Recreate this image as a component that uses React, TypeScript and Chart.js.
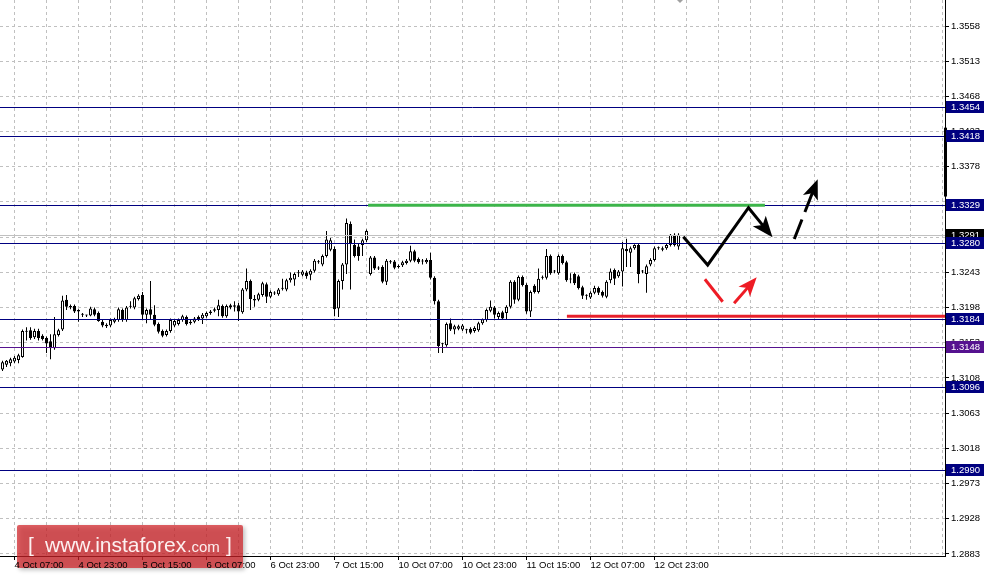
import React, { useEffect, useRef } from 'react';
import { Chart, registerables } from 'chart.js';
Chart.register(...registerables);

// ---- Candle data (H1) ----
const openP = [
  1.3119,1.3125,1.3127,1.3129,1.3131,1.3135,1.3168,1.3169,1.3160,1.3168,
  1.3162,1.3159,1.3155,1.3146,1.3163,1.3170,1.3208,1.3200,1.3200,1.3195,
  1.3189,1.3188,1.3188,1.3196,1.3191,1.3180,1.3176,1.3175,1.3180,1.3182,
  1.3195,1.3182,1.3199,1.3198,1.3209,1.3214,1.3189,1.3196,1.3189,1.3177,
  1.3168,1.3163,1.3168,1.3175,1.3177,1.3182,1.3186,1.3180,1.3180,1.3186,
  1.3184,1.3187,1.3191,1.3194,1.3195,1.3200,1.3187,1.3201,1.3201,1.3201,
  1.3192,1.3221,1.3232,1.3209,1.3208,1.3214,1.3228,1.3212,1.3217,1.3215,
  1.3222,1.3221,1.3233,1.3234,1.3242,1.3240,1.3243,1.3240,1.3245,1.3257,
  1.3253,1.3264,1.3272,1.3273,1.3197,1.3232,1.3253,1.3305,1.3278,1.3276,
  1.3278,1.3284,1.3241,1.3262,1.3249,1.3250,1.3231,1.3257,1.3257,1.3251,
  1.3252,1.3255,1.3258,1.3270,1.3260,1.3258,1.3256,1.3259,1.3236,1.3206,
  1.3151,1.3150,1.3178,1.3170,1.3171,1.3170,1.3169,1.3171,1.3168,1.3169,
  1.3178,1.3182,1.3194,1.3198,1.3186,1.3192,1.3191,1.3199,1.3231,1.3208,
  1.3237,1.3227,1.3193,1.3226,1.3218,1.3236,1.3236,1.3264,1.3244,1.3242,
  1.3264,1.3256,1.3234,1.3241,1.3238,1.3224,1.3213,1.3211,1.3217,1.3223,
  1.3218,1.3212,1.3233,1.3246,1.3238,1.3244,1.3273,1.3268,1.3274,1.3278,
  1.3244,1.3241,1.3253,1.3259,1.3274,1.3272,1.3274,1.3278,1.3291,1.3276
];
const highP = [
  1.3130,1.3131,1.3134,1.3136,1.3139,1.3170,1.3173,1.3173,1.3171,1.3171,
  1.3164,1.3161,1.3164,1.3186,1.3171,1.3213,1.3214,1.3202,1.3202,1.3196,
  1.3191,1.3189,1.3199,1.3198,1.3193,1.3182,1.3178,1.3184,1.3185,1.3198,
  1.3197,1.3200,1.3206,1.3212,1.3215,1.3218,1.3197,1.3232,1.3201,1.3179,
  1.3170,1.3170,1.3184,1.3183,1.3184,1.3189,1.3188,1.3182,1.3186,1.3188,
  1.3191,1.3193,1.3195,1.3198,1.3208,1.3202,1.3202,1.3203,1.3206,1.3204,
  1.3223,1.3248,1.3234,1.3214,1.3217,1.3231,1.3230,1.3220,1.3219,1.3223,
  1.3235,1.3235,1.3243,1.3243,1.3246,1.3246,1.3245,1.3247,1.3260,1.3259,
  1.3266,1.3296,1.3287,1.3276,1.3234,1.3255,1.3312,1.3308,1.3285,1.3280,
  1.3286,1.3298,1.3264,1.3264,1.3251,1.3252,1.3260,1.3259,1.3259,1.3253,
  1.3258,1.3260,1.3277,1.3272,1.3262,1.3260,1.3261,1.3268,1.3238,1.3208,
  1.3153,1.3179,1.3184,1.3176,1.3176,1.3177,1.3171,1.3173,1.3174,1.3180,
  1.3184,1.3197,1.3207,1.3200,1.3193,1.3194,1.3201,1.3233,1.3233,1.3239,
  1.3239,1.3229,1.3220,1.3228,1.3248,1.3239,1.3273,1.3266,1.3246,1.3266,
  1.3266,1.3258,1.3242,1.3243,1.3240,1.3226,1.3215,1.3219,1.3226,1.3225,
  1.3220,1.3233,1.3248,1.3248,1.3246,1.3282,1.3286,1.3276,1.3279,1.3280,
  1.3246,1.3253,1.3261,1.3276,1.3276,1.3276,1.3280,1.3292,1.3293,1.3293
];
const lowP = [
  1.3117,1.3122,1.3123,1.3127,1.3127,1.3134,1.3156,1.3157,1.3158,1.3156,
  1.3156,1.3140,1.3132,1.3144,1.3161,1.3168,1.3195,1.3196,1.3191,1.3180,
  1.3186,1.3186,1.3187,1.3187,1.3180,1.3173,1.3172,1.3173,1.3178,1.3180,
  1.3180,1.3180,1.3197,1.3196,1.3207,1.3182,1.3178,1.3182,1.3174,1.3165,
  1.3160,1.3161,1.3166,1.3173,1.3175,1.3180,1.3175,1.3176,1.3178,1.3181,
  1.3177,1.3185,1.3189,1.3192,1.3187,1.3185,1.3185,1.3196,1.3193,1.3181,
  1.3190,1.3219,1.3195,1.3199,1.3206,1.3212,1.3204,1.3210,1.3214,1.3213,
  1.3220,1.3219,1.3230,1.3226,1.3237,1.3238,1.3235,1.3233,1.3243,1.3254,
  1.3251,1.3262,1.3270,1.3187,1.3186,1.3221,1.3241,1.3221,1.3262,1.3258,
  1.3264,1.3282,1.3239,1.3246,1.3246,1.3229,1.3227,1.3254,1.3247,1.3248,
  1.3250,1.3253,1.3256,1.3256,1.3254,1.3253,1.3254,1.3234,1.3202,1.3140,
  1.3140,1.3148,1.3168,1.3164,1.3169,1.3168,1.3165,1.3164,1.3166,1.3167,
  1.3176,1.3180,1.3192,1.3184,1.3182,1.3182,1.3182,1.3197,1.3203,1.3206,
  1.3225,1.3190,1.3186,1.3216,1.3216,1.3234,1.3234,1.3240,1.3242,1.3240,
  1.3253,1.3231,1.3229,1.3227,1.3221,1.3209,1.3208,1.3209,1.3215,1.3214,
  1.3211,1.3210,1.3229,1.3227,1.3236,1.3225,1.3250,1.3250,1.3272,1.3229,
  1.3242,1.3217,1.3251,1.3257,1.3272,1.3270,1.3272,1.3276,1.3276,1.3272
];
const closeP = [
  1.3128,1.3130,1.3132,1.3134,1.3137,1.3168,1.3167,1.3159,1.3168,1.3159,
  1.3158,1.3152,1.3146,1.3164,1.3169,1.3207,1.3199,1.3198,1.3193,1.3193,
  1.3189,1.3188,1.3197,1.3189,1.3181,1.3175,1.3174,1.3182,1.3183,1.3196,
  1.3182,1.3198,1.3199,1.3210,1.3213,1.3189,1.3195,1.3189,1.3176,1.3167,
  1.3162,1.3168,1.3182,1.3181,1.3182,1.3187,1.3177,1.3178,1.3184,1.3183,
  1.3189,1.3191,1.3193,1.3196,1.3201,1.3187,1.3200,1.3198,1.3199,1.3193,
  1.3221,1.3232,1.3209,1.3207,1.3215,1.3229,1.3212,1.3218,1.3216,1.3221,
  1.3223,1.3233,1.3236,1.3241,1.3243,1.3244,1.3238,1.3245,1.3258,1.3256,
  1.3264,1.3285,1.3284,1.3196,1.3232,1.3253,1.3306,1.3280,1.3264,1.3264,
  1.3284,1.3296,1.3262,1.3248,1.3248,1.3231,1.3258,1.3256,1.3249,1.3250,
  1.3256,1.3258,1.3270,1.3258,1.3256,1.3257,1.3259,1.3236,1.3206,1.3149,
  1.3151,1.3177,1.3170,1.3174,1.3174,1.3175,1.3169,1.3166,1.3172,1.3178,
  1.3183,1.3195,1.3199,1.3189,1.3191,1.3184,1.3199,1.3231,1.3208,1.3237,
  1.3227,1.3193,1.3218,1.3218,1.3235,1.3237,1.3264,1.3242,1.3244,1.3264,
  1.3255,1.3233,1.3234,1.3229,1.3223,1.3213,1.3213,1.3217,1.3223,1.3217,
  1.3213,1.3231,1.3244,1.3235,1.3244,1.3274,1.3270,1.3274,1.3278,1.3241,
  1.3244,1.3251,1.3259,1.3274,1.3274,1.3274,1.3278,1.3291,1.3278,1.3291
];

// ---- Axes ----
const xMin = -0.625;
const xMax = 235.625;
const yMin = 1.288044;
const yMax = 1.359124;
const xGridIndex = [3,11,19,27,35,43,51,59,67,75,83,91,99,107,115,123,131,139,147,155,163,171,179,187,195,203,211,219,227,235];
const xLabelIndex = [3,19,35,51,67,83,99,115,131,147,163];
const xLabelText = ['4 Oct 07:00','4 Oct 23:00','5 Oct 15:00','6 Oct 07:00','6 Oct 23:00','7 Oct 15:00','10 Oct 07:00','10 Oct 23:00','11 Oct 15:00','12 Oct 07:00','12 Oct 23:00'];
const yTickValues = [1.2883,1.2928,1.2973,1.3018,1.3063,1.3108,1.3153,1.3198,1.3243,1.3288,1.3333,1.3378,1.3423,1.3468,1.3513,1.3558];

// ---- Levels and drawings ----
const levelPrices = [1.3454, 1.3418, 1.3329, 1.3280, 1.3184, 1.3148, 1.3096, 1.2990];
const levelColors = ['#000080','#000080','#000080','#000080','#000080','#55128f','#000080','#000080'];
const bidPrice = 1.3291;
const greenLevel = 1.3329;
const greenFromIdx = 91.4;
const greenToIdx = 190.6;
const redLevel = 1.3187;
const redFromIdx = 141.1;
const blackPathIdx = [170.2, 176.3, 186.5, 192.5];
const blackPathPrice = [1.32886, 1.32525, 1.33257, 1.32879];
const dashArrowIdx = [197.95, 203.8];
const dashArrowPrice = [1.32857, 1.3362];
const redLineIdx = [175.6, 180.05];
const redLinePrice = [1.32342, 1.32055];
const redArrowIdx = [182.9, 188.55];
const redArrowPrice = [1.32035, 1.32367];
const axisBarFrom = 1.3428;
const axisBarTo = 1.3340;
const shiftMarkIdx = 169.4;

const FONT = 'Liberation Sans';
const FSIZE = 9.5;

function arrowHead(ctx: CanvasRenderingContext2D, x0: number, y0: number, x1: number, y1: number, len: number, half: number, color: string) {
  const dx = x1 - x0, dy = y1 - y0, d = Math.hypot(dx, dy);
  const ux = dx / d, uy = dy / d;
  const bx = x1 - ux * len, by = y1 - uy * len;
  ctx.beginPath();
  ctx.moveTo(x1, y1);
  ctx.lineTo(bx - uy * half, by + ux * half);
  ctx.lineTo(x1 - ux * len * 0.75, y1 - uy * len * 0.75);
  ctx.lineTo(bx + uy * half, by - ux * half);
  ctx.closePath();
  ctx.fillStyle = color;
  ctx.fill();
}

function strokePath(ctx: CanvasRenderingContext2D, pts: number[][], color: string, width: number, dash: number[], head: number) {
  const n = pts.length;
  const last = pts[n - 1], prev = pts[n - 2];
  const pts2 = pts.map(p => p.slice());
  if (head > 0) {
    const dx = last[0] - prev[0], dy = last[1] - prev[1], d = Math.hypot(dx, dy);
    pts2[n - 1] = [last[0] - dx / d * head * 0.7, last[1] - dy / d * head * 0.7];
  }
  ctx.save();
  ctx.strokeStyle = color;
  ctx.lineWidth = width;
  ctx.setLineDash(dash);
  ctx.lineJoin = 'miter';
  ctx.lineCap = 'butt';
  ctx.beginPath();
  ctx.moveTo(pts2[0][0], pts2[0][1]);
  for (let i = 1; i < n; i++) ctx.lineTo(pts2[i][0], pts2[i][1]);
  ctx.stroke();
  ctx.restore();
  if (head > 0) arrowHead(ctx, prev[0], prev[1], last[0], last[1], head, head * 0.4, color);
}

const overlayPlugin = {
  id: 'overlay',
  afterDatasetsDraw(chart: any) {
    const { ctx, chartArea: a, scales } = chart;
    const x = scales.x, y = scales.y;
    const py = (p: number) => Math.round(y.getPixelForValue(p)) + 0.5;
    ctx.save();
    ctx.beginPath();
    ctx.rect(a.left, a.top, a.right - a.left, a.bottom - a.top);
    ctx.clip();
    // bid line
    ctx.strokeStyle = '#c0c0c0';
    ctx.lineWidth = 1;
    ctx.beginPath();
    ctx.moveTo(a.left, py(bidPrice));
    ctx.lineTo(a.right, py(bidPrice));
    ctx.stroke();
    // horizontal levels
    levelPrices.forEach((p, i) => {
      ctx.strokeStyle = levelColors[i];
      ctx.beginPath();
      ctx.moveTo(a.left, py(p));
      ctx.lineTo(a.right, py(p));
      ctx.stroke();
    });
    // green resistance segment
    ctx.strokeStyle = '#3cb54a';
    ctx.lineWidth = 3;
    ctx.beginPath();
    ctx.moveTo(x.getPixelForValue(greenFromIdx), y.getPixelForValue(greenLevel));
    ctx.lineTo(x.getPixelForValue(greenToIdx), y.getPixelForValue(greenLevel));
    ctx.stroke();
    // red support segment
    ctx.strokeStyle = '#e8212b';
    ctx.beginPath();
    ctx.moveTo(x.getPixelForValue(redFromIdx), y.getPixelForValue(redLevel));
    ctx.lineTo(a.right, y.getPixelForValue(redLevel));
    ctx.stroke();
    // forecast paths
    const pts = (ix: number[], pr: number[]) => ix.map((v, i) => [x.getPixelForValue(v), y.getPixelForValue(pr[i])]);
    strokePath(ctx, pts(blackPathIdx, blackPathPrice), '#000', 3, [], 21);
    strokePath(ctx, pts(dashArrowIdx, dashArrowPrice), '#000', 3, [21, 8], 20);
    strokePath(ctx, pts(redLineIdx, redLinePrice), '#ee1c25', 3, [], 0);
    strokePath(ctx, pts(redArrowIdx, redArrowPrice), '#ee1c25', 3, [], 19);
    ctx.restore();

    // watermark
    ctx.save();
    ctx.shadowColor = 'rgba(0,0,0,0.35)';
    ctx.shadowBlur = 4;
    ctx.shadowOffsetX = 2;
    ctx.shadowOffsetY = 2;
    ctx.fillStyle = 'rgba(210,35,40,0.72)';
    ctx.beginPath();
    (ctx as any).roundRect ? (ctx as any).roundRect(17, 525, 226, 43, 2) : ctx.rect(17, 525, 226, 43);
    ctx.fill();
    ctx.restore();
    ctx.save();
    ctx.fillStyle = '#fdf0f0';
    ctx.textBaseline = 'alphabetic';
    ctx.font = `21px "${FONT}"`;
    ctx.fillText('[', 28, 552);
    ctx.fillText('www.instaforex', 45, 552);
    const w1 = ctx.measureText('www.instaforex').width;
    ctx.font = `15px "${FONT}"`;
    ctx.fillText('.com', 45 + w1 + 1, 552);
    ctx.font = `21px "${FONT}"`;
    ctx.fillText(']', 226, 552);
    ctx.restore();
  },
  afterDraw(chart: any) {
    const { ctx, chartArea: a, scales } = chart;
    const x = scales.x, y = scales.y;
    ctx.save();
    // thick marker on the price axis
    const y1 = y.getPixelForValue(axisBarFrom), y2 = y.getPixelForValue(axisBarTo);
    ctx.fillStyle = '#000';
    ctx.fillRect(a.right - 1, y1, 3, y2 - y1);
    // chart shift marker
    const sx = Math.round(x.getPixelForValue(shiftMarkIdx));
    ctx.fillStyle = '#a0a0a0';
    ctx.beginPath();
    ctx.moveTo(sx - 3, 0);
    ctx.lineTo(sx + 3, 0);
    ctx.lineTo(sx, 3);
    ctx.closePath();
    ctx.fill();
    // price labels
    ctx.font = `${FSIZE}px "${FONT}"`;
    ctx.textBaseline = 'middle';
    const box = (p: number, bg: string) => {
      const cy = Math.round(y.getPixelForValue(p));
      ctx.fillStyle = bg;
      ctx.fillRect(a.right + 1, cy - 6, 38, 12);
      ctx.fillStyle = '#fff';
      ctx.fillText(p.toFixed(4), a.right + 6, cy + 0.5);
    };
    box(bidPrice, '#000');
    levelPrices.forEach((p, i) => box(p, levelColors[i]));
    ctx.restore();
  }
};

export default function App() {
  const ref = useRef<HTMLCanvasElement>(null);
  useEffect(() => {
    document.body.style.margin = '0';
    const idx = openP.map((_, i) => i);
    const bodyColors = openP.map((o, i) => (closeP[i] >= o ? '#ffffff' : '#000000'));
    const chart = new Chart(ref.current as HTMLCanvasElement, {
      type: 'bar',
      data: {
        datasets: [
          {
            data: idx.map(i => ({ x: i, y: [openP[i], closeP[i]] })) as any,
            backgroundColor: bodyColors,
            borderColor: '#000',
            borderWidth: 1,
            borderSkipped: false,
            barThickness: 3,
            minBarLength: 1,
            inflateAmount: 0,
            grouped: false,
            order: 1,
          } as any,
          {
            data: idx.map(i => ({ x: i, y: [lowP[i], highP[i]] })) as any,
            backgroundColor: '#000',
            borderWidth: 0,
            barThickness: 1,
            minBarLength: 1,
            inflateAmount: 0,
            grouped: false,
            order: 2,
          } as any,
        ],
      },
      options: {
        responsive: false,
        animation: false,
        devicePixelRatio: 1,
        events: [],
        layout: { padding: 0, autoPadding: false } as any,
        plugins: { legend: { display: false }, tooltip: { enabled: false } },
        scales: {
          x: {
            type: 'linear',
            position: 'bottom',
            min: xMin,
            max: xMax,
            offset: false,
            afterBuildTicks: (s: any) => { s.ticks = xGridIndex.map(v => ({ value: v })); },
            afterFit: (s: any) => { s.height = 21; s.paddingLeft = 0; s.paddingRight = 0; },
            grid: {
              color: '#c0c0c0',
              lineWidth: 1,
              offset: false,
              drawTicks: true,
              tickLength: 4,
              tickColor: (c: any) => (c.tick && xLabelIndex.includes(c.tick.value) ? '#000' : 'rgba(0,0,0,0)'),
            },
            border: { display: true, color: '#000', width: 1, dash: [3, 3] },
            ticks: {
              autoSkip: false,
              maxRotation: 0,
              minRotation: 0,
              align: 'start',
              padding: 0,
              color: '#000',
              font: { family: FONT, size: FSIZE },
              z: 1,
              callback: (v: any) => {
                const k = xLabelIndex.indexOf(Number(v));
                return k >= 0 ? xLabelText[k] : '';
              },
            },
          } as any,
          y: {
            type: 'linear',
            position: 'right',
            min: yMin,
            max: yMax,
            afterBuildTicks: (s: any) => { s.ticks = yTickValues.map(v => ({ value: v })); },
            afterFit: (s: any) => { s.width = 40; s.paddingTop = 0; s.paddingBottom = 0; },
            grid: { color: '#c0c0c0', lineWidth: 1, drawTicks: true, tickLength: 4, tickColor: '#000' },
            border: { display: true, color: '#000', width: 1, dash: [3, 3] },
            ticks: {
              autoSkip: false,
              padding: 2,
              color: '#000',
              font: { family: FONT, size: FSIZE },
              callback: (v: any) => Number(v).toFixed(4),
            },
          } as any,
        },
      },
      plugins: [overlayPlugin],
    });
    return () => chart.destroy();
  }, []);
  return (
    <canvas
      ref={ref}
      width={985}
      height={577}
      style={{ display: 'block', width: '985px', height: '577px' }}
    />
  );
}
